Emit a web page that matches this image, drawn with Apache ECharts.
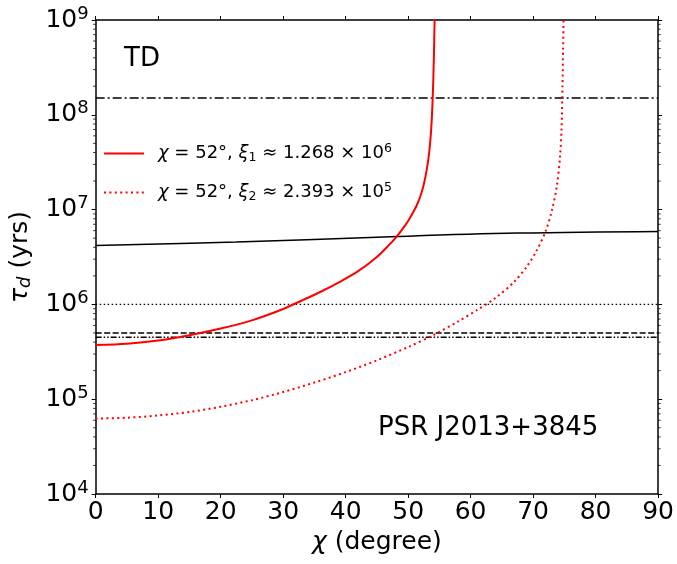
<!DOCTYPE html>
<html>
<head>
<meta charset="utf-8">
<script src="https://cdn.jsdelivr.net/npm/echarts@6/dist/echarts.min.js"></script>
<style>
  html, body { margin: 0; padding: 0; background: #fff; }
  #main { width: 677px; height: 564px; }
</style>
</head>
<body>
<div id="main"></div>
<script>
// values
var chiXi1 = [0, 5, 10, 15, 20, 25, 30, 33, 36, 39, 42, 45, 47, 48.1, 49, 50, 51, 51.5, 52, 52.5, 53, 53.4, 53.7, 53.9, 54.05, 54.15, 54.25];
var tauXi1 = [3.73e5, 3.84e5, 4.15e5, 4.73e5, 5.56e5, 6.79e5, 8.95e5, 1.10e6, 1.36e6, 1.72e6, 2.24e6, 3.16e6, 4.27e6, 5.13e6, 6.10e6, 7.59e6, 9.89e6, 1.16e7, 1.41e7, 1.84e7, 2.69e7, 4.17e7, 7.24e7, 1.32e8, 2.63e8, 5.01e8, 1.12e9];

var chiXi2 = [0, 5, 10, 15, 20, 25, 30, 35, 40, 45, 50, 54, 58, 61, 64, 67, 69, 70.5, 72, 73, 73.8, 74.3, 74.55, 74.7, 74.8, 74.88];
var tauXi2 = [6.25e4, 6.38e4, 6.73e4, 7.33e4, 8.32e4, 9.77e4, 1.19e5, 1.50e5, 1.93e5, 2.57e5, 3.55e5, 4.73e5, 6.61e5, 8.71e5, 1.17e6, 1.74e6, 2.51e6, 3.63e6, 5.89e6, 9.77e6, 1.78e7, 3.55e7, 7.08e7, 2.0e8, 5.01e8, 1.26e9];

var chiBlack = [0, 22.5, 45, 67.5, 90];
var tauBlack = [4.19e6, 4.54e6, 5.12e6, 5.65e6, 5.89e6];

var levelDashDot = 1.5e8;
var levelDotted = 1.0e6;
var levelDashed = 5.0e5;
var levelDashDotDot = 4.5e5;

var yDecades = [1e4, 1e5, 1e6, 1e7, 1e8, 1e9];

var nameXi1 = 'xi1';
var nameXi2 = 'xi2';

function pairs(xs, ys) {
  return xs.map(function (x, i) { return [x, ys[i]]; });
}
function flat(v) {
  return [[0, v], [90, v]];
}

// minor ticks 2..9 x 10^n for the log axis
var minorTicks = [];
for (var d = 0; d < yDecades.length - 1; d++) {
  for (var k = 2; k <= 9; k++) minorTicks.push([0, k * yDecades[d]]);
}

var FONT = 'DejaVu Sans';
var myChart = echarts.init(document.getElementById('main'));

var tickLabelRich = {
  b: { fontSize: 25, fontFamily: FONT, color: '#000', lineHeight: 30 },
  s: { fontSize: 18, fontFamily: FONT, color: '#000', verticalAlign: 'top', lineHeight: 30, padding: [0, 0, 12, 0] }
};

var legendRich = {
  t: { fontSize: 18, fontFamily: FONT, color: '#000', lineHeight: 26 },
  i: { fontSize: 18, fontFamily: FONT, fontStyle: 'italic', color: '#000', lineHeight: 26 },
  sub: { fontSize: 12.5, fontFamily: FONT, color: '#000', lineHeight: 26, padding: [8, 0, 0, 0] },
  sup: { fontSize: 12.5, fontFamily: FONT, color: '#000', lineHeight: 26, padding: [0, 0, 10, 0] }
};

myChart.setOption({
  animation: false,
  backgroundColor: '#fff',
  grid: { left: 93, right: 17, top: 20, bottom: 70 },
  legend: {
    data: [nameXi1, nameXi2],
    orient: 'vertical',
    left: 103,
    top: 142,
    padding: 0,
    itemWidth: 40,
    itemHeight: 14,
    itemGap: 16,
    itemStyle: { opacity: 0 },
    formatter: function (name) {
      if (name === nameXi1) return '{i|χ}{t| = 52°, }{i|ξ}{sub|1}{t| ≈ 1.268 × 10}{sup|6}';
      return '{i|χ}{t| = 52°, }{i|ξ}{sub|2}{t| ≈ 2.393 × 10}{sup|5}';
    },
    textStyle: { rich: legendRich, padding: [0, 0, 0, 9] }
  },
  xAxis: [{
    type: 'value',
    min: 0, max: 90, interval: 10,
    name: '{i|χ}{t| (degree)}',
    nameLocation: 'middle',
    nameGap: 36,
    nameTextStyle: {
      rich: {
        i: { fontSize: 25, fontFamily: FONT, fontStyle: 'italic', color: '#000' },
        t: { fontSize: 25, fontFamily: FONT, color: '#000' }
      }
    },
    axisLine: { show: true, onZero: false, lineStyle: { color: '#000', width: 1.5 } },
    axisTick: { show: true, inside: false, length: 4, lineStyle: { color: '#000', width: 1 } },
    axisLabel: { margin: 6, fontSize: 25, fontFamily: FONT, color: '#000' },
    splitLine: { show: false }
  }, {
    type: 'value',
    position: 'top',
    min: 0, max: 90, interval: 10,
    axisLine: { show: true, onZero: false, lineStyle: { color: '#000', width: 1.5 } },
    axisTick: { show: true, inside: false, length: 4, lineStyle: { color: '#000', width: 1 } },
    axisLabel: { show: false },
    splitLine: { show: false }
  }],
  yAxis: [{
    type: 'log',
    logBase: 10,
    min: 1e4, max: 1e9,
    name: '{i|τ}{sub|d}{t| (yrs)}',
    nameLocation: 'middle',
    nameGap: 58,
    nameTextStyle: {
      rich: {
        i: { fontSize: 25, fontFamily: FONT, fontStyle: 'italic', color: '#000' },
        t: { fontSize: 25, fontFamily: FONT, color: '#000' },
        sub: { fontSize: 18, fontFamily: FONT, fontStyle: 'italic', color: '#000', padding: [10, 0, 0, 0] }
      }
    },
    axisLine: { show: true, onZero: false, lineStyle: { color: '#000', width: 1.5 } },
    axisTick: { show: true, inside: false, length: 4, lineStyle: { color: '#000', width: 1 } },
    axisLabel: {
      margin: 7,
      formatter: function (v) {
        return '{b|10}{s|' + Math.round(Math.log10(v)) + '}';
      },
      rich: tickLabelRich
    },
    splitLine: { show: false }
  }, {
    type: 'log',
    logBase: 10,
    position: 'right',
    min: 1e4, max: 1e9,
    axisLine: { show: true, onZero: false, lineStyle: { color: '#000', width: 1.5 } },
    axisTick: { show: true, inside: false, length: 4, lineStyle: { color: '#000', width: 1 } },
    axisLabel: { show: false },
    splitLine: { show: false }
  }],
  graphic: [
    { type: 'text', left: 124, top: 46, style: { text: 'TD', fontSize: 26, fontFamily: FONT, fill: '#000' } },
    { type: 'text', left: 378, top: 415, style: { text: 'PSR J2013+3845', fontSize: 26, fontFamily: FONT, fill: '#000' } }
  ],
  series: [
    {
      type: 'line', name: 'dashdot', data: flat(levelDashDot), symbol: 'none', silent: true,
      lineStyle: { color: '#000', width: 1.5, type: [9, 3, 2, 3] }
    },
    {
      type: 'line', name: 'dotted', data: flat(levelDotted), symbol: 'none', silent: true,
      lineStyle: { color: '#000', width: 1.3, type: [1.5, 2.5] }
    },
    {
      type: 'line', name: 'dashed', data: flat(levelDashed), symbol: 'none', silent: true,
      lineStyle: { color: '#000', width: 1.4, type: [6, 2.5] }
    },
    {
      type: 'line', name: 'dashdotdot', data: flat(levelDashDotDot), symbol: 'none', silent: true,
      lineStyle: { color: '#000', width: 1.4, type: [6, 2, 1.5, 2, 1.5, 2] }
    },
    {
      type: 'line', name: 'black', data: pairs(chiBlack, tauBlack), symbol: 'none', smooth: 0.4, silent: true,
      lineStyle: { color: '#000', width: 1.5 }
    },
    {
      type: 'line', name: nameXi1, data: pairs(chiXi1, tauXi1), symbol: 'none',
      smooth: 0.3, clip: true,
      itemStyle: { color: '#ff0000' },
      lineStyle: { color: '#ff0000', width: 2 }
    },
    {
      type: 'line', name: nameXi2, data: pairs(chiXi2, tauXi2), symbol: 'none',
      smooth: 0.3, clip: true,
      itemStyle: { color: '#ff0000' },
      lineStyle: { color: '#ff0000', width: 2, type: [2, 3.4] }
    },
    {
      type: 'custom', name: 'minor', data: minorTicks, silent: true, clip: false,
      renderItem: function (params, api) {
        var v = api.value(1);
        var pl = api.coord([0, v]);
        var pr = api.coord([90, v]);
        return {
          type: 'group',
          children: [
            { type: 'line', shape: { x1: pl[0] - 2.5, y1: pl[1], x2: pl[0], y2: pl[1] }, style: { stroke: '#000', lineWidth: 0.8 } },
            { type: 'line', shape: { x1: pr[0], y1: pr[1], x2: pr[0] + 2.5, y2: pr[1] }, style: { stroke: '#000', lineWidth: 0.8 } }
          ]
        };
      }
    }
  ]
});
</script>
</body>
</html>
